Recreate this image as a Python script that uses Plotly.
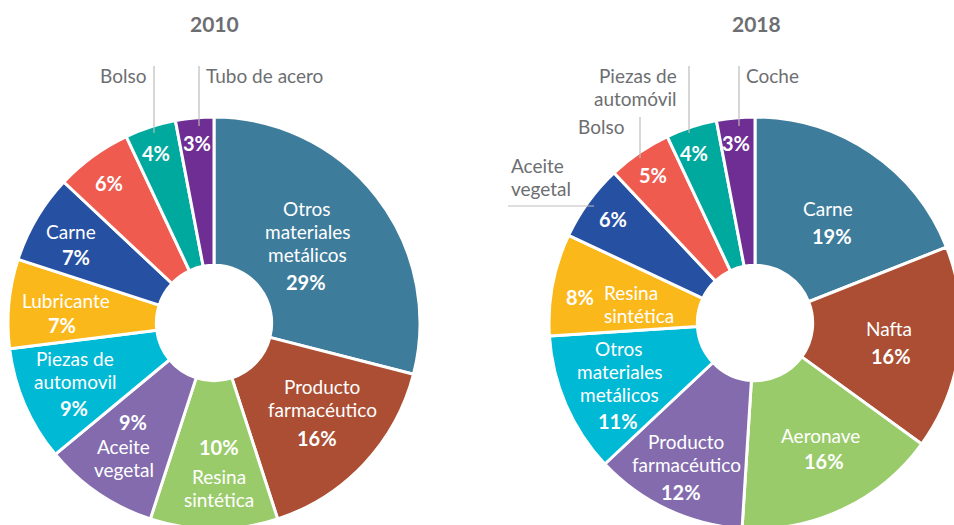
import plotly.graph_objects as go

# ---------------- data ----------------
years = ["2010", "2018"]

labels_2010 = ["Otros materiales metálicos", "Producto farmacéutico", "Resina sintética",
               "Aceite vegetal", "Piezas de automovil", "Lubricante", "Carne",
               "Otros productos", "Bolso", "Tubo de acero"]
values_2010 = [29, 16, 10, 9, 9, 7, 7, 6, 4, 3]

labels_2018 = ["Carne", "Nafta", "Aeronave", "Producto farmacéutico",
               "Otros materiales metálicos", "Resina sintética", "Aceite vegetal",
               "Bolso", "Piezas de automóvil", "Coche"]
values_2018 = [19, 16, 16, 12, 11, 8, 6, 5, 4, 3]

# ---------------- style ----------------
colors = ["#3E7C9B", "#AB4E33", "#9ACB6A", "#836BAE", "#00B9D4",
          "#FBB81B", "#2651A2", "#F05B50", "#00A99E", "#6E2E93"]
FONT = "Lato, 'Noto Sans', sans-serif"
GRAY = "#6D6E71"
TXT = 19      # name text size
PCT = 20      # percentage text size
LS = 23       # line spacing for wrapped names (px)
W, H = 970, 540  # slightly larger than the window so the pies are cropped like the original


def px(x, y):
    return x / W, 1 - y / H


# label layout per slice: (name lines, x, y of first line, xanchor), (pct x, pct y)
layout_2010 = [
    ((["Otros", "materiales", "metálicos"], 307, 208.5, "center"), (306, 282)),
    ((["Producto", "farmacéutico"], 322, 386, "center"), (317, 438)),
    ((["Resina", "sintética"], 219, 476.5, "center"), (219, 447)),
    ((["Aceite", "vegetal"], 124, 446.5, "center"), (133, 422)),
    ((["Piezas de", "automovil"], 75, 358, "center"), (74, 408)),
    ((["Lubricante"], 66, 300, "center"), (62, 325)),
    ((["Carne"], 71, 231, "center"), (76, 257)),
    (None, (109, 183)),
    (None, (156, 153)),
    (None, (197, 143)),
]
# outside names: (name lines, x, y of first line, xanchor), leader line (x0, y0, x1, y1)
outside_2010 = [
    ((["Bolso"], 148, 76, "right"), (154, 66, 154, 133)),
    ((["Tubo de acero"], 204, 76, "left"), (199, 66, 199, 126)),
]

layout_2018 = [
    ((["Carne"], 828, 208, "center"), (832, 236)),
    ((["Nafta"], 889, 328, "center"), (891, 356)),
    ((["Aeronave"], 820, 435, "center"), (824, 461)),
    ((["Producto", "farmacéutico"], 686, 441, "center"), (681, 492)),
    ((["Otros", "materiales", "metálicos"], 619, 348, "center"), (618, 421)),
    ((["Resina", "sintética"], 602, 292, "left"), (580, 297)),
    (None, (613, 219)),
    (None, (653, 175)),
    (None, (694, 153)),
    (None, (736, 143)),
]
outside_2018 = [
    ((["Aceite", "vegetal"], 509, 165.5, "left"), (508, 206, 594, 206)),
    ((["Bolso"], 626, 126, "right"), (640, 117, 640, 158)),
    ((["Piezas de", "automóvil"], 679, 75.5, "right"), (689, 66, 689, 133)),
    ((["Coche"], 744, 76, "left"), (739, 66, 739, 126)),
]

fig = go.Figure()

pies = [
    (labels_2010, values_2010, (214, 323)),
    (labels_2018, values_2018, (755, 323)),
]
R = 206
for labels, values, (cx, cy) in pies:
    x0, y0 = px(cx - R, cy + R)
    x1, y1 = px(cx + R, cy - R)
    fig.add_trace(go.Pie(
        labels=labels, values=values, sort=False, direction="clockwise", rotation=0,
        hole=0.28, textinfo="none", hoverinfo="label+percent",
        marker=dict(colors=colors, line=dict(color="white", width=3)),
        domain=dict(x=[x0, x1], y=[y0, y1]),
    ))

annotations = []
shapes = []


def add_text(x, y, s, color="white", bold=False, xanchor="center", size=TXT):
    ax, ay = px(x, y)
    annotations.append(dict(
        x=ax, y=ay, xref="paper", yref="paper", showarrow=False,
        text=f"<b>{s}</b>" if bold else s, xanchor=xanchor, yanchor="middle",
        font=dict(family=FONT, size=size, color=color)))


def add_name(spec, color):
    lines, x, y, xa = spec
    for i, t in enumerate(lines):
        add_text(x, y + i * LS, t, color=color, xanchor=xa)


for values, lay, outside in [(values_2010, layout_2010, outside_2010),
                             (values_2018, layout_2018, outside_2018)]:
    for v, (name, (pxx, pyy)) in zip(values, lay):
        if name:
            add_name(name, "white")
        add_text(pxx, pyy, f"{v}%", bold=True, size=PCT)
    for name, (lx0, ly0, lx1, ly1) in outside:
        add_name(name, GRAY)
        a0, b0 = px(lx0, ly0)
        a1, b1 = px(lx1, ly1)
        shapes.append(dict(type="line", xref="paper", yref="paper", x0=a0, y0=b0, x1=a1, y1=b1,
                           line=dict(color="#BDBDBD", width=1.2)))

# titles
for yr, cx in zip(years, [214, 756]):
    add_text(cx, 23, yr, color=GRAY, bold=True, size=21)

fig.update_layout(
    width=W, height=H, margin=dict(l=0, r=0, t=0, b=0),
    paper_bgcolor="white", plot_bgcolor="white", showlegend=False,
    annotations=annotations, shapes=shapes,
    font=dict(family=FONT),
)

fig.write_html("out.html", config={"displayModeBar": False},
               post_script="document.body.style.margin='0';document.body.style.overflow='hidden';")
